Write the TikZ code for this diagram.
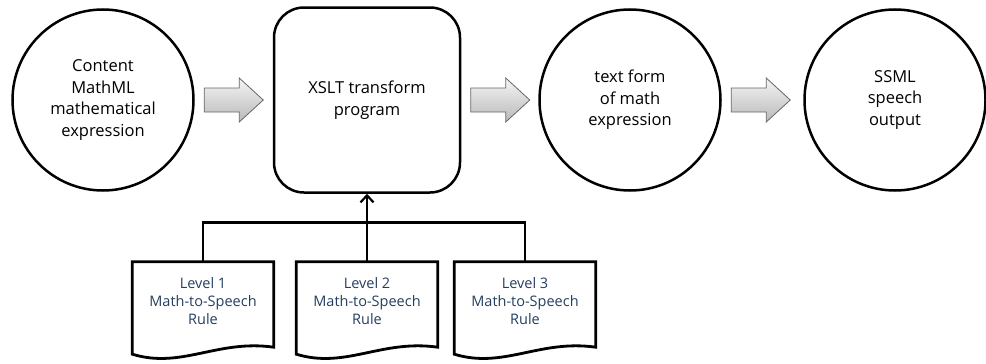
\documentclass[tikz,border=0pt]{standalone}
\usepackage{fontspec}
\setmainfont{Open Sans}
\usetikzlibrary{arrows.meta,calc}
\definecolor{ruletext}{HTML}{243F60}
\begin{document}
\begin{tikzpicture}[x=1pt,y=-1pt,
  stage/.style={draw,line width=2.5pt,circle,minimum size=181pt,inner sep=0pt,
    align=center,font=\fontsize{16.5}{21.5}\selectfont},
  program/.style={draw,line width=2.5pt,rounded corners=30pt,minimum width=186pt,
    minimum height=185pt,inner sep=0pt,align=center,font=\fontsize{16.5}{21.5}\selectfont},
  rulebox/.style={minimum width=141pt,minimum height=78pt,inner sep=0pt,align=center,
    text=ruletext,font=\fontsize{14.5}{18}\selectfont},
  docline/.style={line width=2.8pt,line join=miter},
  conn/.style={line width=2.8pt},
  blockarrow/.style={draw=gray!80!black,line width=0.8pt,top color=gray!8,bottom color=gray!55}]
\useasboundingbox (0,0) rectangle (986,364);

% processing stages
\node[stage] (src) at (103,100) {Content\\MathML\\mathematical\\expression};
\node[program] (xslt) at (367,100) {XSLT transform\\program};
\node[stage] (txt) at (630,100) {text form\\of math\\expression};
\node[stage] (ssml) at (895,100) {SSML\\speech\\output};

% block arrows between the stages
\foreach \from in {src,xslt,txt}{
  \path[blockarrow] ($(\from.east)+(9.5,-12)$) -- ++(35,0) -- ++(0,-10) -- ++(24,22)
    -- ++(-24,22) -- ++(0,-10) -- ++(-35,0) -- cycle;
}

% rule documents
\node[rulebox] (r1) at (203,301) {Level 1\\Math-to-Speech\\Rule};
\node[rulebox] (r2) at (367,301) {Level 2\\Math-to-Speech\\Rule};
\node[rulebox] (r3) at (525,301) {Level 3\\Math-to-Speech\\Rule};
\foreach \d in {r1,r2,r3}{
  \draw[docline] ($(\d.south west)+(0,14)$) -- (\d.north west) -- (\d.north east)
    -- ($(\d.south east)+(0,7)$)
    .. controls ($(\d.south west)!0.6!(\d.south east)+(0,-1)$)
       and ($(\d.south west)!0.35!(\d.south east)+(0,29)$)
    .. ($(\d.south west)+(0,14)$) -- cycle;
}

% rules feeding the transform
\draw[conn] (r1.north) -- ++(0,-39) -| (r3.north);
\draw[conn,-{Straight Barb[length=7pt,width=13pt,line width=2.2pt]}] (r2.north) -- (xslt.south);
\end{tikzpicture}
\end{document}
